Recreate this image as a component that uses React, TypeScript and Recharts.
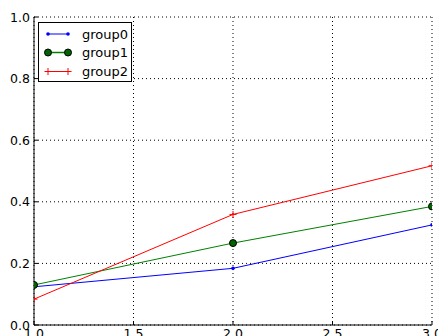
import React from "react";
import { LineChart, Line, XAxis, YAxis, CartesianGrid } from "recharts";

const xValues = [1, 2, 3];
const group0 = [0.124, 0.184, 0.325];
const group1 = [0.13, 0.266, 0.385];
const group2 = [0.084, 0.359, 0.517];
const xTicks = [1, 1.5, 2, 2.5, 3];
const yTicks = [0, 0.2, 0.4, 0.6, 0.8, 1];

const seriesNames = ["group0", "group1", "group2"];

const data = xValues.map((x, i) => ({
  x,
  group0: group0[i],
  group1: group1[i],
  group2: group2[i],
}));

const FONT = "'DejaVu Sans', sans-serif";
const TICK = 4;

const BottomTick = ({ x, y, payload }: any) => (
  <g>
    <line x1={x} x2={x} y1={y} y2={y - TICK} stroke="#000" />
    <text
      x={x}
      y={y + 3}
      textAnchor="middle"
      dominantBaseline="hanging"
      fontSize={12.5}
      fontFamily={FONT}
      fill="#000"
    >
      {payload.value.toFixed(1)}
    </text>
  </g>
);

const TopTick = ({ x, y }: any) => (
  <line x1={x} x2={x} y1={y} y2={y + TICK} stroke="#000" />
);

const LeftTick = ({ x, y, payload }: any) => (
  <g>
    <line x1={x} x2={x + TICK} y1={y} y2={y} stroke="#000" />
    <text
      x={x - 4}
      y={y}
      textAnchor="end"
      dominantBaseline="central"
      fontSize={12.5}
      fontFamily={FONT}
      fill="#000"
    >
      {payload.value.toFixed(1)}
    </text>
  </g>
);

const RightTick = ({ x, y }: any) => (
  <line x1={x} x2={x - TICK} y1={y} y2={y} stroke="#000" />
);

const Plus = ({ cx, cy }: any) => {
  if (cx == null || cy == null) return null;
  return (
    <g>
      <line x1={cx - 3.5} x2={cx + 3.5} y1={cy} y2={cy} stroke="#ff0000" />
      <line x1={cx} x2={cx} y1={cy - 3.5} y2={cy + 3.5} stroke="#ff0000" />
    </g>
  );
};

const rowY = [12, 30.5, 49.5];

const LegendBox = () => (
  <svg
    width={94}
    height={60}
    style={{ position: "absolute", left: 38, top: 22, background: "#fff" }}
  >
    <rect x={0.5} y={0.5} width={93} height={59} fill="#fff" stroke="#000" />
    {/* group0 */}
    <line x1={10} x2={30} y1={rowY[0]} y2={rowY[0]} stroke="#0000ff" />
    <circle cx={10} cy={rowY[0]} r={1.8} fill="#0000ff" />
    <circle cx={30} cy={rowY[0]} r={1.8} fill="#0000ff" />
    {/* group1 */}
    <line x1={10} x2={30} y1={rowY[1]} y2={rowY[1]} stroke="#008000" strokeWidth={1.5} />
    <circle cx={10} cy={rowY[1]} r={3.5} fill="#006400" stroke="#000" />
    <circle cx={30} cy={rowY[1]} r={3.5} fill="#006400" stroke="#000" />
    {/* group2 */}
    <line x1={10} x2={30} y1={rowY[2]} y2={rowY[2]} stroke="#ff0000" />
    <line x1={6.5} x2={13.5} y1={rowY[2]} y2={rowY[2]} stroke="#ff0000" />
    <line x1={10} x2={10} y1={rowY[2] - 3.5} y2={rowY[2] + 3.5} stroke="#ff0000" />
    <line x1={26.5} x2={33.5} y1={rowY[2]} y2={rowY[2]} stroke="#ff0000" />
    <line x1={30} x2={30} y1={rowY[2] - 3.5} y2={rowY[2] + 3.5} stroke="#ff0000" />
    {seriesNames.map((n, i) => (
      <text
        key={n}
        x={44}
        y={rowY[i]}
        dominantBaseline="central"
        fontSize={13}
        fontFamily={FONT}
        fill="#000"
      >
        {n}
      </text>
    ))}
  </svg>
);

export default function App() {
  return (
    <div
      style={{
        width: 438,
        height: 336,
        background: "#fff",
        overflow: "hidden",
        position: "relative",
      }}
    >
      <style>{"body{margin:0;}"}</style>
      <LineChart
        width={438}
        height={336}
        data={data}
        margin={{ top: 17, right: 6, bottom: 0, left: 0 }}
      >
        <CartesianGrid
          xAxisId="bottom"
          yAxisId="left"
          stroke="#000"
          strokeDasharray="1 3"
          strokeWidth={1}
        />
        <XAxis
          xAxisId="bottom"
          dataKey="x"
          type="number"
          domain={[1, 3]}
          ticks={xTicks}
          allowDataOverflow
          height={11}
          tickSize={0}
          tickMargin={0}
          tickLine={false}
          axisLine={{ stroke: "#000" }}
          tick={<BottomTick />}
          interval={0}
        />
        <XAxis
          xAxisId="top"
          orientation="top"
          dataKey="x"
          type="number"
          domain={[1, 3]}
          ticks={xTicks}
          allowDataOverflow
          height={0}
          tickSize={0}
          tickMargin={0}
          tickLine={false}
          axisLine={{ stroke: "#000" }}
          tick={<TopTick />}
          interval={0}
        />
        <YAxis
          yAxisId="left"
          type="number"
          domain={[0, 1]}
          ticks={yTicks}
          allowDataOverflow
          width={34}
          tickSize={0}
          tickMargin={0}
          tickLine={false}
          axisLine={{ stroke: "#000" }}
          tick={<LeftTick />}
          interval={0}
        />
        <YAxis
          yAxisId="right"
          orientation="right"
          type="number"
          domain={[0, 1]}
          ticks={yTicks}
          allowDataOverflow
          width={0}
          tickSize={0}
          tickMargin={0}
          tickLine={false}
          axisLine={{ stroke: "#000" }}
          tick={<RightTick />}
          interval={0}
        />
        <Line
          xAxisId="bottom"
          yAxisId="left"
          dataKey="group0"
          stroke="#0000ff"
          strokeWidth={1}
          dot={{ r: 1.8, fill: "#0000ff", stroke: "none" }}
          activeDot={false}
          isAnimationActive={false}
        />
        <Line
          xAxisId="bottom"
          yAxisId="left"
          dataKey="group1"
          stroke="#008000"
          strokeWidth={1}
          dot={{ r: 3.5, fill: "#006400", stroke: "#000", strokeWidth: 1 }}
          activeDot={false}
          isAnimationActive={false}
        />
        <Line
          xAxisId="bottom"
          yAxisId="left"
          dataKey="group2"
          stroke="#ff0000"
          strokeWidth={1}
          dot={<Plus />}
          activeDot={false}
          isAnimationActive={false}
        />
      </LineChart>
      <LegendBox />
    </div>
  );
}
